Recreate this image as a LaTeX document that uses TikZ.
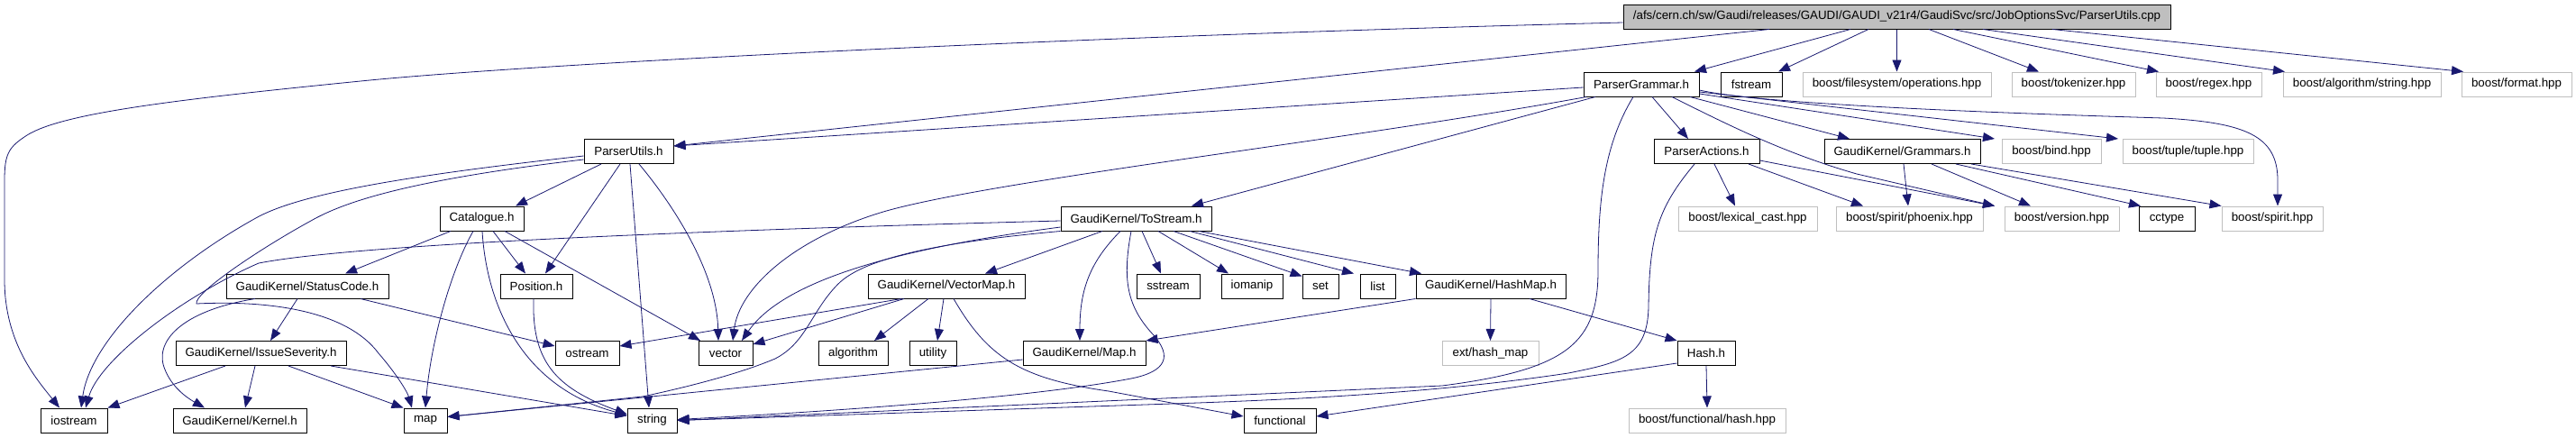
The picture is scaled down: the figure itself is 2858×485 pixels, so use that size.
\documentclass[tikz,border=0pt]{standalone}
\usepackage{fontspec}
\setmainfont{Liberation Sans}
\usetikzlibrary{arrows.meta,calc}
\definecolor{edgec}{HTML}{191970}
\definecolor{grayb}{HTML}{BFBFBF}
\newcommand\dfont{\fontsize{13.33}{16}\selectfont}
\tikzset{
  filebox/.style={draw=black, line width=1pt, inner sep=0pt, minimum height=27pt, font=\dfont, text=black},
  extbox/.style={filebox, draw=grayb},
  e/.style={draw=edgec, line width=0.8pt, -{Triangle[length=13pt,width=10pt]}},
}
\begin{document}
\begin{tikzpicture}[x=1pt,y=-1pt]
\useasboundingbox (0,0) rectangle (2858,485);
% row 1
\node[filebox, fill=grayb, minimum width=607pt] (root) at (2104.5,18.5) {/afs/cern.ch/sw/Gaudi/releases/GAUDI/GAUDI\_v21r4/GaudiSvc/src/JobOptionsSvc/ParserUtils.cpp};
% row 2
\node[filebox, minimum width=128pt] (pg) at (1821,93.5) {ParserGrammar.h};
\node[filebox, minimum width=68pt] (fstream) at (1943,93.5) {fstream};
\node[extbox, minimum width=209pt] (fsops) at (2104.5,93.5) {boost/filesystem/operations.hpp};
\node[extbox, minimum width=137pt] (tok) at (2300.5,93.5) {boost/tokenizer.hpp};
\node[extbox, minimum width=117pt] (regex) at (2450.5,93.5) {boost/regex.hpp};
\node[extbox, minimum width=175pt] (algstr) at (2620.5,93.5) {boost/algorithm/string.hpp};
\node[extbox, minimum width=122pt] (fmt) at (2792,93.5) {boost/format.hpp};
% row 3
\node[filebox, minimum width=99pt] (pu) at (697.5,168) {ParserUtils.h};
\node[filebox, minimum width=117pt] (pa) at (1893.5,168) {ParserActions.h};
\node[filebox, minimum width=173pt] (gram) at (2110.5,168) {GaudiKernel/Grammars.h};
\node[extbox, minimum width=110pt] (bind) at (2276,168) {boost/bind.hpp};
\node[extbox, minimum width=145pt] (tuple) at (2427.5,168) {boost/tuple/tuple.hpp};
% row 4
\node[filebox, minimum width=93pt] (cat) at (534.5,242.5) {Catalogue.h};
\node[filebox, minimum width=167pt] (ts) at (1260.5,242.5) {GaudiKernel/ToStream.h};
\node[extbox, minimum width=154pt] (lex) at (1939,242.5) {boost/lexical\_cast.hpp};
\node[extbox, minimum width=163pt] (phoenix) at (2118.5,242.5) {boost/spirit/phoenix.hpp};
\node[extbox, minimum width=127pt] (version) at (2287.5,242.5) {boost/version.hpp};
\node[filebox, minimum width=62pt] (cctype) at (2404,242.5) {cctype};
\node[extbox, minimum width=112pt] (spirit) at (2521,242.5) {boost/spirit.hpp};
% row 5
\node[filebox, minimum width=180pt] (sc) at (341,317.5) {GaudiKernel/StatusCode.h};
\node[filebox, minimum width=80pt] (pos) at (595,317.5) {Position.h};
\node[filebox, minimum width=174pt] (vm) at (1050,317.5) {GaudiKernel/VectorMap.h};
\node[filebox, minimum width=70pt] (sstream) at (1296,317.5) {sstream};
\node[filebox, minimum width=68pt] (iomanip) at (1389,317.5) {iomanip};
\node[filebox, minimum width=40pt] (nset) at (1465,317.5) {set};
\node[filebox, minimum width=39pt] (nlist) at (1528.5,317.5) {list};
\node[filebox, minimum width=166pt] (hm) at (1654,317.5) {GaudiKernel/HashMap.h};
% row 6
\node[filebox, minimum width=189pt] (is) at (289.5,392) {GaudiKernel/IssueSeverity.h};
\node[filebox, minimum width=71pt] (ostream) at (651.5,392) {ostream};
\node[filebox, minimum width=60pt] (vector) at (805,392) {vector};
\node[filebox, minimum width=77pt] (algorithm) at (946.5,392) {algorithm};
\node[filebox, minimum width=52pt] (utility) at (1035,392) {utility};
\node[filebox, minimum width=136pt] (maph) at (1203,392) {GaudiKernel/Map.h};
\node[extbox, minimum width=107pt] (hashmap) at (1653.5,392) {ext/hash\_map};
\node[filebox, minimum width=64pt] (hash) at (1893,392) {Hash.h};
% row 7
\node[filebox, minimum width=74pt] (iostream) at (82,466.5) {iostream};
\node[filebox, minimum width=148pt] (kernel) at (266,466.5) {GaudiKernel/Kernel.h};
\node[filebox, minimum width=48pt] (nmap) at (472,466.5) {map};
\node[filebox, minimum width=55pt] (nstring) at (723.5,466.5) {string};
\node[filebox, minimum width=80pt] (functional) at (1420,466.5) {functional};
\node[extbox, minimum width=174pt] (bfh) at (1894,466.5) {boost/functional/hash.hpp};

% ---- root edges
\draw[e] ($(root.west)+(0,6.5)$) .. controls (1200,40) and (600,70) .. (400,90) .. controls (200,110) and (70,125) .. (30,150) .. controls (10,163) and (5,170) .. (5,200) -- (5,310) .. controls (5,380) and (40,420) .. ($(iostream.north)+(-16,0)$);
\draw[e] ($(root.south)+(-141.5,0)$) -- ($(pu.east)+(0,-6)$);
\draw[e] ($(root.south)+(-51.5,0)$) -- ($(pg.north)+(59,0)$);
\draw[e] ($(root.south)+(-31.5,0)$) -- ($(fstream.north)+(30,0)$);
\draw[e] (root.south) -- (fsops.north);
\draw[e] ($(root.south)+(35.5,0)$) -- ($(tok.north)+(-38.5,0)$);
\draw[e] ($(root.south)+(62.5,0)$) -- ($(regex.north)+(-55.5,0)$);
\draw[e] ($(root.south)+(95.5,0)$) -- ($(algstr.north)+(-85.5,0)$);
\draw[e] ($(root.south)+(172.5,0)$) -- ($(fmt.north)+(-59,0)$);

% ---- ParserGrammar edges
\draw[e] ($(pg.west)+(0,3.5)$) -- ($(pu.east)+(0,-6)$);
\draw[e] ($(pg.south)+(-61,0)$) .. controls (1500,155) and (1100,200) .. (980,235) .. controls (880,265) and (820,320) .. ($(vector.north)+(8,0)$);
\draw[e] ($(pg.south)+(-51,0)$) -- ($(ts.north)+(61.5,0)$);
\draw[e] ($(pg.south)+(-9,0)$) .. controls (1780,160) and (1773,220) .. (1773,300) .. controls (1773,380) and (1740,410) .. (1600,428) -- (nstring.east);
\draw[e] ($(pg.south)+(12,0)$) -- ($(pa.north)+(-20.5,0)$);
\draw[e] ($(pg.south)+(54,0)$) -- ($(gram.north)+(-58.5,0)$);
\draw[e] ($(pg.east)+(0,10.5)$) -- ($(bind.north)+(-63,0)$);
\draw[e] ($(pg.east)+(0,8.5)$) -- ($(tuple.north)+(-77.5,0)$);
\draw[e] ($(pg.east)+(0,6.5)$) .. controls (1950,115) and (2200,125) .. (2400,131) .. controls (2490,136) and (2527,150) .. (2527,200) -- ($(spirit.north)+(6,0)$);
\draw[e] ($(pg.south)+(34,0)$) .. controls (1920,140) and (1980,170) .. (2060,193) -- ($(version.north)+(-74.5,0)$);

% ---- ParserActions edges
\draw[e] ($(pa.south)+(8.5,0)$) -- ($(lex.north)+(-14,0)$);
\draw[e] ($(pa.south)+(-13.5,0)$) .. controls (1840,230) and (1830,260) .. (1829,340) .. controls (1828,395) and (1800,402) .. (1740,414) .. controls (1600,435) and (1450,443) .. (1300,448) -- (nstring.east);
\draw[e] ($(pa.south)+(46.5,0)$) -- ($(phoenix.north)+(-51.5,0)$);
\draw[e] ($(pa.east)+(0,10)$) -- ($(version.north)+(-74.5,0)$);

% ---- Grammars edges
\draw[e] ($(gram.south)+(1.5,0)$) -- ($(phoenix.north)+(-1.5,0)$);
\draw[e] ($(gram.south)+(32.5,0)$) -- ($(version.north)+(-34.5,0)$);
\draw[e] ($(gram.south)+(59.5,0)$) -- ($(cctype.north)+(-29,0)$);
\draw[e] ($(gram.south)+(76.5,0)$) -- (spirit.north west);

% ---- ParserUtils edges
\draw[e] ($(pu.south)+(-30.5,0)$) -- ($(cat.north)+(37.5,0)$);
\draw[e] ($(pu.south)+(-9.5,0)$) -- ($(pos.north)+(10,0)$);
\draw[e] ($(pu.south)+(1.5,0)$) -- ($(nstring.north)+(-3.5,0)$);
\draw[e] ($(pu.south)+(11.5,0)$) .. controls (745,225) and (795,300) .. ($(vector.north)+(-8,0)$);
\draw[e] ($(pu.west)+(0,5)$) .. controls (450,195) and (330,215) .. (282,243) .. controls (180,300) and (100,380) .. ($(iostream.north)+(8,0)$);
\draw[e] ($(pu.west)+(0,9)$) .. controls (450,200) and (380,225) .. (345,245) .. controls (290,275) and (215,325) .. (218,337) .. controls (300,333) and (385,345) .. (420,392) .. controls (440,415) and (452,435) .. ($(nmap.north)+(-15,0)$);

% ---- Catalogue edges
\draw[e] ($(cat.south)+(-34.5,0)$) -- ($(sc.north)+(42,0)$);
\draw[e] ($(cat.south)+(12.5,0)$) -- ($(pos.north)+(-12,0)$);
\draw[e] ($(cat.south)+(25.5,0)$) -- ($(vector.north)+(-28,0)$);
\draw[e] ($(cat.south)+(-9.5,0)$) .. controls (500,300) and (478,380) .. (nmap.north);
\draw[e] ($(cat.south)+(0.5,0)$) .. controls (540,340) and (580,430) .. ($(nstring.west)+(0,-6)$);

% ---- Position edge
\draw[e] ($(pos.south)+(-3,0)$) .. controls (590,400) and (615,430) .. ($(nstring.west)+(0,-7)$);

% ---- StatusCode edges
\draw[e] ($(sc.south)+(-11,0)$) -- ($(is.north)+(10.5,0)$);
\draw[e] ($(sc.south)+(-58,0)$) .. controls (200,345) and (170,380) .. (183,410) .. controls (190,428) and (205,440) .. ($(kernel.north)+(-39,0)$);
\draw[e] ($(sc.south)+(59,0)$) -- ($(ostream.west)+(0,-8)$);

% ---- IssueSeverity edges
\draw[e] ($(is.south)+(-39.5,0)$) -- (iostream.north east);
\draw[e] ($(is.south)+(-6.5,0)$) -- ($(kernel.north)+(6,0)$);
\draw[e] ($(is.south)+(30.5,0)$) -- (nmap.north west);
\draw[e] ($(is.south)+(77.5,0)$) -- ($(nstring.west)+(0,-5)$);

% ---- ToStream edges
\draw[e] ($(ts.west)+(0,2.5)$) .. controls (800,255) and (400,270) .. (287,292) .. controls (200,330) and (110,400) .. ($(iostream.north)+(13,0)$);
\draw[e] ($(ts.west)+(0,9.5)$) .. controls (1000,275) and (870,310) .. ($(vector.north)+(18,0)$);
\draw[e] (ts.south west) .. controls (1050,268) and (960,285) .. (930,315) .. controls (900,345) and (895,380) .. (860,398) .. controls (820,415) and (760,430) .. (713,440) -- ($(nmap.east)+(0,-4)$);
\draw[e] ($(ts.south)+(-5.5,0)$) .. controls (1245,310) and (1250,340) .. (1280,372) .. controls (1300,395) and (1295,412) .. (1255,420) .. controls (1150,440) and (950,455) .. ($(nstring.east)+(0,-1)$);
\draw[e] ($(ts.south)+(-37.5,0)$) -- ($(vm.north)+(43,0)$);
\draw[e] ($(ts.south)+(-17.5,0)$) .. controls (1210,290) and (1198,320) .. ($(maph.north)+(-5,0)$);
\draw[e] ($(ts.south)+(6.5,0)$) -- ($(sstream.north)+(-8,0)$);
\draw[e] ($(ts.south)+(24.5,0)$) -- ($(iomanip.north)+(-26,0)$);
\draw[e] ($(ts.south)+(41.5,0)$) -- ($(nset.west)+(0,-11)$);
\draw[e] ($(ts.south)+(59.5,0)$) -- ($(nlist.north)+(-26.5,0)$);
\draw[e] ($(ts.south)+(69.5,0)$) -- ($(hm.north)+(-77,0)$);

% ---- VectorMap edges
\draw[e] ($(vm.south)+(-20,0)$) -- ($(algorithm.north)+(23.5,0)$);
\draw[e] ($(vm.south)+(-3,0)$) -- ($(utility.north)+(5,0)$);
\draw[e] ($(vm.south)+(8,0)$) .. controls (1095,395) and (1130,420) .. (1230,434) -- ($(functional.west)+(0,-4.5)$);
\draw[e] ($(vm.south)+(-50,0)$) -- ($(ostream.east)+(0,-8)$);
\draw[e] ($(vm.south)+(-47,0)$) -- ($(vector.east)+(0,-10)$);

% ---- Map.h edge
\draw[e] ($(maph.west)+(0,7)$) -- ($(nmap.east)+(0,-4)$);

% ---- HashMap edges
\draw[e] (hm.south west) -- (maph.north east);
\draw[e] (hm.south) -- (hashmap.north);
\draw[e] ($(hm.south)+(43,0)$) -- (hash.north west);

% ---- Hash edges
\draw[e] ($(hash.west)+(0,11)$) -- ($(functional.east)+(0,-4.5)$);
\draw[e] (hash.south) -- (bfh.north);
\end{tikzpicture}
\end{document}
